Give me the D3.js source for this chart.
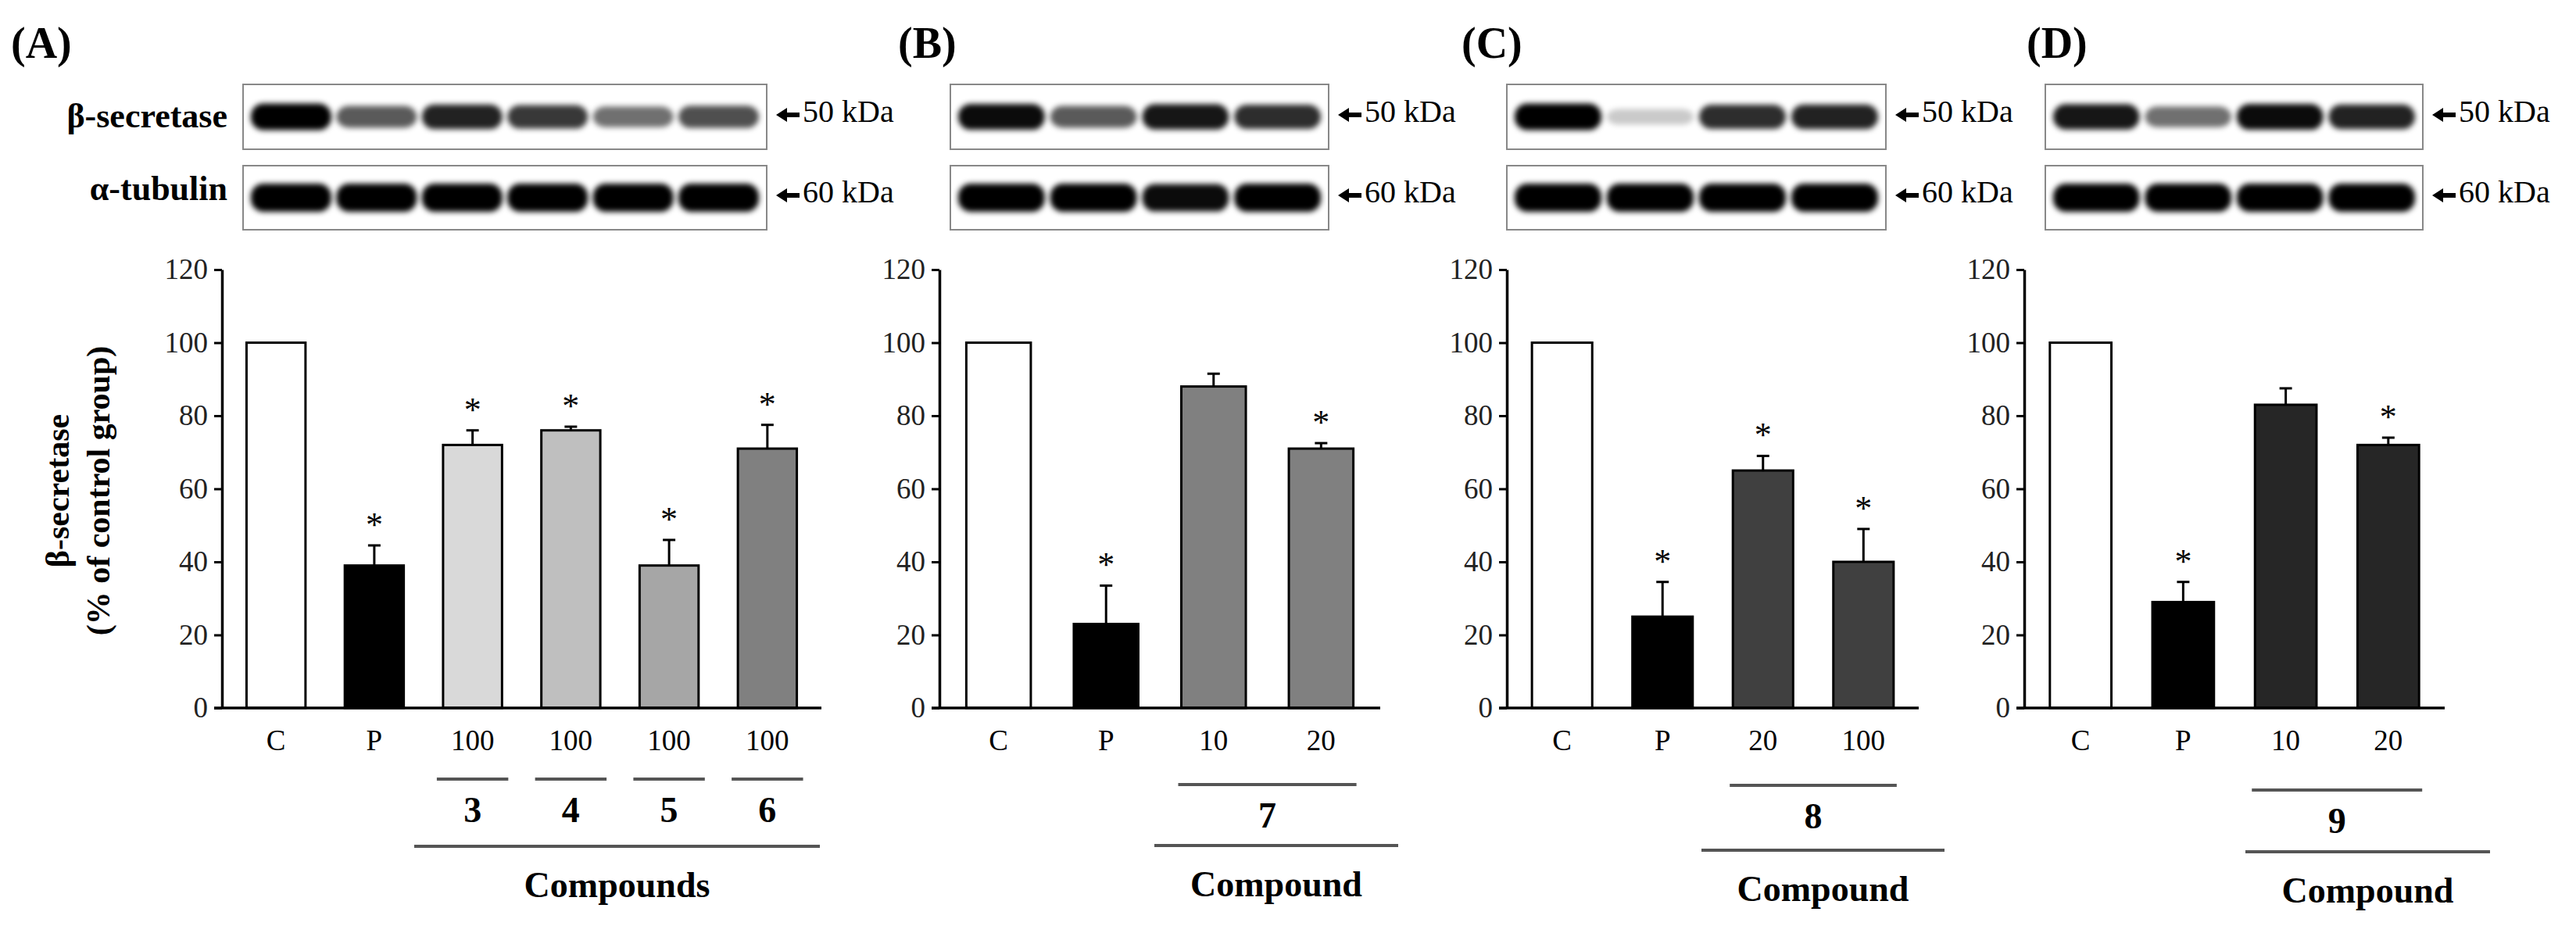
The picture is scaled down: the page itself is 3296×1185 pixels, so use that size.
<!DOCTYPE html>
<html>
<head>
<meta charset="utf-8">
<script src="https://cdn.jsdelivr.net/npm/d3@7"></script>
<style>
  body { margin: 0; background: #fff; }
  text { font-family: "Liberation Serif", "DejaVu Serif", serif; }
</style>
</head>
<body>
<div id="wrapper"></div>
<script>
// data
const panelIds = ["(A)", "(B)", "(C)", "(D)"];
const catsA = ["C", "P", "100 ", "100  ", "100   ", "100    "];
const valsA = [100, 39, 72, 76, 39, 71];
const errA = [0, 5.5, 4, 1, 7, 6.5];
const starA = [false, true, true, true, true, true];
const fillA = ["#ffffff", "#000000", "#d9d9d9", "#bfbfbf", "#a6a6a6", "#808080"];
const groupA = ["3", "4", "5", "6"];

const catsB = ["C", "P", "10", "20"];
const valsB = [100, 23, 88, 71];
const errB = [0, 10.5, 3.5, 1.5];
const starB = [false, true, false, true];

const catsC = ["C", "P", "20", "100"];
const valsC = [100, 25, 65, 40];
const errC = [0, 9.5, 4, 9];
const starC = [false, true, true, true];

const catsD = ["C", "P", "10", "20"];
const valsD = [100, 29, 83, 72];
const errD = [0, 5.5, 4.5, 2];
const starD = [false, true, false, true];

const yTicks = [0, 20, 40, 60, 80, 100, 120];

// blot band intensities (0..1)
const bsecA = [1, 0.6, 0.85, 0.75, 0.5, 0.65];
const tubA = [1, 1, 1, 1, 1, 1];
const bsecB = [0.95, 0.6, 0.9, 0.8];
const tubB = [1, 1, 0.95, 1];
const bsecC = [1, 0.1, 0.8, 0.85];
const tubC = [1, 1, 1, 1];
const bsecD = [0.9, 0.5, 0.95, 0.85];
const tubD = [1, 1, 1, 1];

const svg = d3.select("#wrapper").append("svg")
  .attr("width", 3296).attr("height", 1185);

svg.append("defs").append("filter").attr("id", "blur")
  .attr("x", "-20%").attr("y", "-50%").attr("width", "140%").attr("height", "200%")
  .append("feGaussianBlur").attr("stdDeviation", 3.5);

const yScale = d3.scaleLinear().domain([0, 120]).range([906, 345]);

function drawBlot(x0, x1, y0, y1, levels, thick) {
  svg.append("rect").attr("x", x0).attr("y", y0)
    .attr("width", x1 - x0).attr("height", y1 - y0)
    .attr("fill", "#fff").attr("stroke", "#888").attr("stroke-width", 2);
  const lane = d3.scaleBand().domain(d3.range(levels.length))
    .range([x0 + 10, x1 - 10]).paddingInner(0.06);
  const cy = (y0 + y1) / 2;
  svg.append("g").attr("filter", "url(#blur)")
    .selectAll("rect").data(levels).join("rect")
    .attr("x", (d, i) => lane(i))
    .attr("width", lane.bandwidth())
    .attr("y", d => cy - (thick * (0.55 + 0.45 * d)) / 2)
    .attr("height", d => thick * (0.55 + 0.45 * d))
    .attr("rx", 16)
    .attr("fill", "#000")
    .attr("opacity", d => 0.12 + 0.88 * d);
}

function kda(x, y, label) {
  svg.append("path")
    .attr("d", `M${x + 2},${y} l14,-9 v6 h16 v6 h-16 v6 z`)
    .attr("fill", "#000");
  svg.append("text").attr("x", x + 36).attr("y", y)
    .attr("dominant-baseline", "middle")
    .attr("font-size", 40).text(label);
}

function drawPanel(p) {
  const x = d3.scaleBand().domain(p.cats).range([p.x0, p.x1])
    .paddingInner(0.4).paddingOuter(0.25);
  const g = svg.append("g");

  // panel letter
  svg.append("text").attr("x", p.letterX).attr("y", 74)
    .attr("font-size", 56).attr("font-weight", "bold").text(p.id);

  // blots
  drawBlot(p.bx0, p.bx1, 108, 191, p.bsec, 34);
  drawBlot(p.bx0, p.bx1, 212, 294, p.tub, 36);
  kda(p.bx1 + 10, 147, "50 kDa");
  kda(p.bx1 + 10, 250, "60 kDa");

  // bars
  g.selectAll(".bar").data(p.vals).join("rect")
    .attr("x", (d, i) => x(p.cats[i]))
    .attr("width", x.bandwidth())
    .attr("y", d => yScale(d))
    .attr("height", d => yScale(0) - yScale(d))
    .attr("fill", (d, i) => p.fills[i])
    .attr("stroke", "#000").attr("stroke-width", 3);

  // error bars
  p.vals.forEach((v, i) => {
    if (!p.err[i]) return;
    const cx = x(p.cats[i]) + x.bandwidth() / 2;
    g.append("line").attr("x1", cx).attr("x2", cx)
      .attr("y1", yScale(v)).attr("y2", yScale(v + p.err[i]))
      .attr("stroke", "#000").attr("stroke-width", 3);
    g.append("line").attr("x1", cx - 8).attr("x2", cx + 8)
      .attr("y1", yScale(v + p.err[i])).attr("y2", yScale(v + p.err[i]))
      .attr("stroke", "#000").attr("stroke-width", 3);
    if (p.star[i]) {
      g.append("text").attr("x", cx).attr("y", yScale(v + p.err[i]) - 12)
        .attr("text-anchor", "middle").attr("font-size", 44).text("*");
    }
  });

  // axes
  const yAxis = d3.axisLeft(yScale).tickValues(yTicks).tickSize(10).tickSizeOuter(0);
  const ya = svg.append("g").attr("transform", `translate(${p.x0},0)`).call(yAxis);
  ya.select(".domain").attr("stroke-width", 3.5);
  ya.selectAll(".tick line").attr("stroke-width", 3);
  ya.selectAll(".tick text").attr("font-size", 37)
    .attr("font-family", "Liberation Serif").attr("x", -18).attr("fill", "#222");

  const xAxis = d3.axisBottom(x).tickSize(0).tickSizeOuter(0);
  const xa = svg.append("g").attr("transform", `translate(0,${yScale(0)})`).call(xAxis);
  xa.select(".domain").attr("stroke-width", 3.5)
    .attr("d", `M${p.x0 - 10},0H${p.x1}`);
  xa.selectAll(".tick text").attr("font-size", 37)
    .attr("font-family", "Liberation Serif").attr("dy", 0).attr("y", 54)
    .text(d => d.trim());

  // group lines
  const lineCol = "#555";
  p.groups.forEach(gr => {
    const a = x(p.cats[gr.from]);
    const b = x(p.cats[gr.to]) + x.bandwidth();
    svg.append("line").attr("x1", a - gr.ext).attr("x2", b + gr.ext)
      .attr("y1", p.shortY).attr("y2", p.shortY)
      .attr("stroke", lineCol).attr("stroke-width", 4);
    svg.append("text").attr("x", (a + b) / 2).attr("y", p.shortY + 44)
      .attr("text-anchor", "middle").attr("dominant-baseline", "middle")
      .attr("font-size", 46).attr("font-weight", "bold").text(gr.label);
  });
  svg.append("line").attr("x1", p.longX0).attr("x2", p.longX1)
    .attr("y1", p.longY).attr("y2", p.longY)
    .attr("stroke", lineCol).attr("stroke-width", 4);
  svg.append("text").attr("x", (p.longX0 + p.longX1) / 2).attr("y", p.longY + 54)
    .attr("text-anchor", "middle").attr("dominant-baseline", "middle")
    .attr("font-size", 46).attr("font-weight", "bold").text(p.groupTitle);
}

drawPanel({
  id: panelIds[0], letterX: 14, cats: catsA, vals: valsA, err: errA, star: starA, fills: fillA,
  x0: 284, x1: 1051, bx0: 311, bx1: 981, bsec: bsecA, tub: tubA,
  groups: groupA.map((l, i) => ({ from: i + 2, to: i + 2, label: l, ext: 8 })),
  shortY: 997, longY: 1083, longX0: 530, longX1: 1049, groupTitle: "Compounds"
});
drawPanel({
  id: panelIds[1], letterX: 1149, cats: catsB, vals: valsB, err: errB, star: starB,
  fills: ["#fff", "#000", "#808080", "#808080"],
  x0: 1202, x1: 1766, bx0: 1216, bx1: 1700, bsec: bsecB, tub: tubB,
  groups: [{ from: 2, to: 3, label: "7", ext: 4 }],
  shortY: 1004, longY: 1082, longX0: 1477, longX1: 1789, groupTitle: "Compound"
});
drawPanel({
  id: panelIds[2], letterX: 1870, cats: catsC, vals: valsC, err: errC, star: starC,
  fills: ["#fff", "#000", "#404040", "#404040"],
  x0: 1928, x1: 2455, bx0: 1928, bx1: 2413, bsec: bsecC, tub: tubC,
  groups: [{ from: 2, to: 3, label: "8", ext: 4 }],
  shortY: 1005, longY: 1088, longX0: 2177, longX1: 2488, groupTitle: "Compound"
});
drawPanel({
  id: panelIds[3], letterX: 2593, cats: catsD, vals: valsD, err: errD, star: starD,
  fills: ["#fff", "#000", "#262626", "#262626"],
  x0: 2590, x1: 3128, bx0: 2617, bx1: 3100, bsec: bsecD, tub: tubD,
  groups: [{ from: 2, to: 3, label: "9", ext: 4 }],
  shortY: 1011, longY: 1090, longX0: 2873, longX1: 3186, groupTitle: "Compound"
});

// left labels
svg.append("text").attr("x", 291).attr("y", 163).attr("text-anchor", "end")
  .attr("font-size", 44).attr("font-weight", "bold").text("\u03b2-secretase");
svg.append("text").attr("x", 291).attr("y", 256).attr("text-anchor", "end")
  .attr("font-size", 44).attr("font-weight", "bold").text("\u03b1-tubulin");

const yl = svg.append("text").attr("transform", "translate(88,628) rotate(-90)")
  .attr("text-anchor", "middle").attr("font-size", 42).attr("font-weight", "bold");
yl.append("tspan").attr("x", 0).attr("dy", 0).text("\u03b2-secretase");
yl.append("tspan").attr("x", 0).attr("dy", 52).text("(% of control group)");
</script>
</body>
</html>
